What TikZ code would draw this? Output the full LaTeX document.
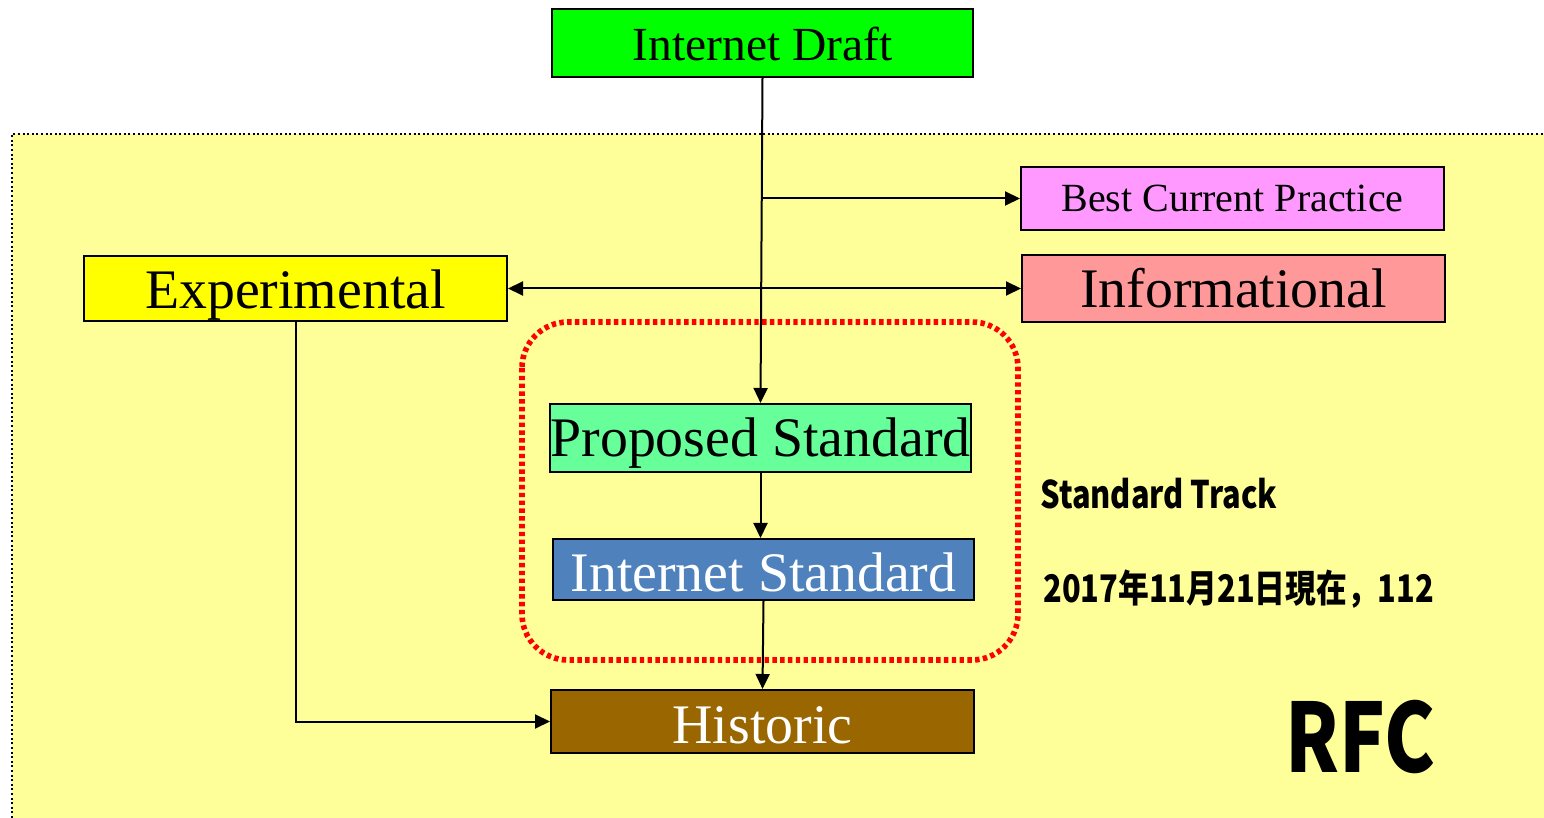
\documentclass[tikz,border=0pt]{standalone}
\usepackage{fontspec}
\setmainfont{Liberation Serif}
\newfontfamily\jpfont{Noto Sans CJK JP}
\usetikzlibrary{arrows.meta}
\definecolor{bgyellow}{HTML}{FFFF99}
\definecolor{idgreen}{HTML}{00FF00}
\definecolor{bcppink}{HTML}{FF99FF}
\definecolor{expyellow}{HTML}{FFFF00}
\definecolor{infored}{HTML}{FF9999}
\definecolor{psgreen}{HTML}{66FF99}
\definecolor{isblue}{HTML}{4F81BD}
\definecolor{hibrown}{HTML}{996600}
\tikzset{
  box/.style={draw=black, line width=1pt, rectangle, inner sep=0pt, anchor=center, text depth=0pt},
  conn/.style={draw=black, line width=1pt},
  arr/.style={conn, -{Triangle[length=7.5pt,width=7pt]}},
  arrboth/.style={conn, {Triangle[length=7.5pt,width=7pt]}-{Triangle[length=7.5pt,width=7pt]}},
  jptext/.style={font=\jpfont\bfseries\fontsize{19pt}{22pt}\selectfont, inner sep=0pt, anchor=west, xscale=0.81},
}
\begin{document}
\begin{tikzpicture}[x=0.5pt,y=-0.5pt]
\useasboundingbox (0,0) rectangle (1544,818);
\fill[white] (0,0) rectangle (1544,818);
\fill[bgyellow] (12,134) rectangle (1544,818);
\draw[line width=1pt, dash pattern=on 1pt off 1.3pt] (12,818) -- (12,134) -- (1544,134);

\draw[red, line width=2.8pt, dash pattern=on 2.2pt off 1.7pt, rounded corners=23pt] (522,322) rectangle (1018,660);

\node[box, fill=idgreen, minimum width=210.5pt, minimum height=34pt, text height=18pt, font=\fontsize{23.75pt}{26pt}\selectfont] (ID) at (762.5,43) {Internet Draft};
\node[box, fill=bcppink, minimum width=211.5pt, minimum height=31.5pt, text height=13.5pt, font=\fontsize{20pt}{24pt}\selectfont] (BCP) at (1232.5,198.5) {Best Current Practice};
\node[box, fill=expyellow, minimum width=211.5pt, minimum height=32.5pt, text height=20.5pt, font=\fontsize{27.9pt}{30pt}\selectfont] (EX) at (295.5,288.5) {Experimental};
\node[box, fill=infored, minimum width=211.5pt, minimum height=33.5pt, text height=19.5pt, font=\fontsize{27.9pt}{30pt}\selectfont] (IN) at (1233.5,288.5) {Informational};
\node[box, fill=psgreen, minimum width=210.5pt, minimum height=34pt, text height=19pt, font=\fontsize{27.9pt}{30pt}\selectfont] (PS) at (760.5,438) {Proposed Standard};
\node[box, fill=isblue, text=white, minimum width=210.5pt, minimum height=30.5pt, text height=21.5pt, font=\fontsize{27.9pt}{30pt}\selectfont] (IS) at (763.5,569.5) {Internet Standard};
\node[box, fill=hibrown, text=white, minimum width=211.5pt, minimum height=31.5pt, text height=21.5pt, font=\fontsize{27.9pt}{30pt}\selectfont] (HI) at (762.5,721.5) {Historic};

\node[jptext] (ST) at (1040,494) {Standard Track};
\node[jptext] (DT) at (1043,589) {2017年11月21日現在，112};
\node[font=\jpfont\bfseries\fontsize{47.7pt}{50pt}\selectfont, inner sep=0pt, anchor=west, xscale=0.80] (RFC) at (1285,737) {RFC};

\draw[arr] (ID.south) -- (PS.north);
\draw[arr] (ID.south |- BCP.west) -- (BCP.west);
\draw[arrboth] (EX.east) -- (IN.west);
\draw[arr] (PS.south) -- (PS.south |- IS.north);
\draw[arr] (IS.south) -- (HI.north);
\draw[arr] (EX.south) |- (HI.west);
\end{tikzpicture}
\end{document}
